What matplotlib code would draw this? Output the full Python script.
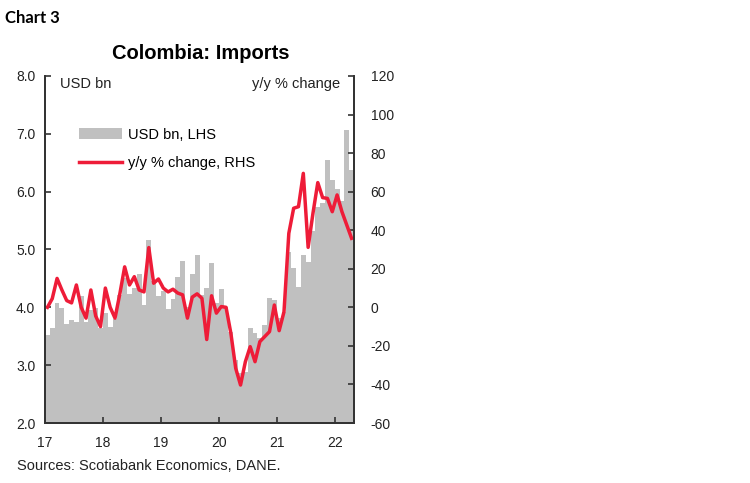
import matplotlib
matplotlib.use("Agg")
import matplotlib.pyplot as plt
import numpy as np

plt.rcParams['font.family'] = ['Liberation Sans', 'DejaVu Sans']
plt.rcParams['axes.unicode_minus'] = False

# monthly data, Jan 2017 - Apr 2022
imports_usd_bn = [
    3.52, 3.64, 4.08, 3.98, 3.71, 3.78, 3.74, 4.19, 3.74, 3.96, 3.98, 3.65,   # 2017
    3.90, 3.66, 3.80, 4.22, 4.50, 4.23, 4.34, 4.58, 4.04, 5.17, 4.45, 4.19,   # 2018
    4.29, 3.97, 4.14, 4.52, 4.80, 4.01, 4.57, 4.91, 4.22, 4.34, 4.76, 4.07,   # 2019
    4.31, 4.00, 3.58, 3.09, 2.87, 2.88, 3.64, 3.55, 3.47, 3.69, 4.17, 4.12,   # 2020
    3.81, 3.92, 4.95, 4.68, 4.36, 4.90, 4.79, 5.32, 5.74, 5.80, 6.55, 6.20,   # 2021
    6.04, 5.84, 7.06, 6.38,                                                   # 2022
]
yoy_pct = [
    0.0, 4.5, 15.0, 9.0, 3.5, 2.3, 11.6, 0.0, -5.6, 9.0, -4.5, -10.0,
    10.0, 0.0, -5.6, 7.0, 21.0, 11.6, 15.9, 9.0, 8.0, 31.0, 12.5, 14.7,
    10.0, 8.0, 9.4, 7.4, 6.5, -5.6, 5.3, 7.0, 4.7, -16.7, 6.0, -3.0,
    0.4, 0.0, -13.5, -31.6, -40.3, -28.2, -20.4, -28.2, -17.8, -15.2, -12.6, 1.2,
    -12.1, -2.3, 38.4, 51.4, 52.2, 69.5, 31.1, 48.8, 64.7, 56.9, 56.5, 49.6,
    58.3, 49.6, 42.7, 35.8,
]
year_labels = ["17", "18", "19", "20", "21", "22"]

GRAY = "#C0C0C0"
RED = "#EE1C38"
AX = "#333333"

fig = plt.figure(figsize=(7.5, 4.83), dpi=100)
ax1 = fig.add_axes([0.06, 0.1242, 0.412, 0.7185])
ax2 = ax1.twinx()

n = len(imports_usd_bn)
x = np.arange(n)
bars = ax1.bar(x, np.array(imports_usd_bn) - 2.0, bottom=2.0, width=1.0,
               align='edge', color=GRAY, linewidth=0, label="USD bn, LHS")
line, = ax2.plot(x + 0.5, yoy_pct, color=RED, lw=2.5, label="y/y % change, RHS")

ax1.set_xlim(0, n)
ax1.set_ylim(2.0, 8.0)
ax2.set_ylim(-60, 120)
ax1.set_yticks(np.arange(2.0, 8.01, 1.0))
ax1.set_yticklabels([f"{v:.1f}" for v in np.arange(2.0, 8.01, 1.0)])
ax2.set_yticks(np.arange(-60, 121, 20))
ax1.set_xticks(np.arange(0, n, 12))
ax1.set_xticklabels(year_labels)

for a in (ax1, ax2):
    a.spines['top'].set_visible(False)
    for s in ('left', 'right', 'bottom'):
        a.spines[s].set_color(AX)
        a.spines[s].set_linewidth(1.3)
ax1.tick_params(axis='y', direction='in', length=4, width=1.2, color=AX,
                labelsize=10, pad=7, labelcolor="#222222")
ax1.tick_params(axis='x', direction='in', length=4, width=1.2, color=AX,
                labelsize=10, pad=9, labelcolor="#222222")
ax2.tick_params(axis='y', direction='in', length=4, width=1.2, color=AX,
                labelsize=10, pad=12, labelcolor="#222222")

ax1.text(0.05, 0.997, "USD bn", transform=ax1.transAxes, fontsize=10.5,
         ha='left', va='top', color="#222222")
ax1.text(0.955, 0.997, "y/y % change", transform=ax1.transAxes, fontsize=10.5,
         ha='right', va='top', color="#222222")

ax2.legend(handles=[bars, line], loc='upper left', bbox_to_anchor=(0.09, 0.868),
           frameon=False, fontsize=10.5, handlelength=3.0, handletextpad=0.4,
           labelspacing=1.0, borderaxespad=0)

fig.text(0.007, 0.962, "Chart 3", fontsize=12, fontweight='bold',
         family=['Lato', 'DejaVu Sans'], ha='left', va='center')
fig.text(0.268, 0.89, "Colombia: Imports", fontsize=14.5, fontweight='bold',
         ha='center', va='center')
fig.text(0.023, 0.035, "Sources: Scotiabank Economics, DANE.", fontsize=10.5,
         ha='left', va='center', color="#222222")

fig.savefig("out.png", dpi=100)
